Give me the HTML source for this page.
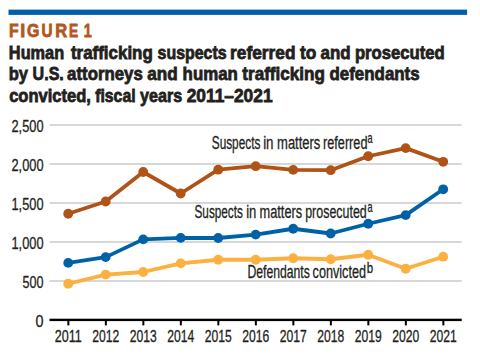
<!DOCTYPE html>
<html><head><meta charset="utf-8"><style>
html,body{margin:0;padding:0;background:#fff;width:480px;height:362px;overflow:hidden;}
svg{display:block;}
svg text{font-family:"Liberation Sans", sans-serif;}
</style></head><body>
<svg width="480" height="362" viewBox="0 0 480 362">
<rect x="8.5" y="9.6" width="458.6" height="5.3" fill="#0060a9"/>
<text x="9.06" y="36.8" font-size="18.6" font-weight="bold" fill="#b4571d" stroke="#b4571d" stroke-width="0.8" textLength="9.64" lengthAdjust="spacingAndGlyphs">F</text>
<text x="20.18" y="36.8" font-size="18.6" font-weight="bold" fill="#b4571d" stroke="#b4571d" stroke-width="0.8" textLength="4.95" lengthAdjust="spacingAndGlyphs">I</text>
<text x="26.99" y="36.8" font-size="18.6" font-weight="bold" fill="#b4571d" stroke="#b4571d" stroke-width="0.8" textLength="12.43" lengthAdjust="spacingAndGlyphs">G</text>
<text x="41.58" y="36.8" font-size="18.6" font-weight="bold" fill="#b4571d" stroke="#b4571d" stroke-width="0.8" textLength="11.09" lengthAdjust="spacingAndGlyphs">U</text>
<text x="55.14" y="36.8" font-size="18.6" font-weight="bold" fill="#b4571d" stroke="#b4571d" stroke-width="0.8" textLength="11.91" lengthAdjust="spacingAndGlyphs">R</text>
<text x="69.05" y="36.8" font-size="18.6" font-weight="bold" fill="#b4571d" stroke="#b4571d" stroke-width="0.8" textLength="9.15" lengthAdjust="spacingAndGlyphs">E</text>
<text x="83.82" y="36.8" font-size="18.6" font-weight="bold" fill="#b4571d" stroke="#b4571d" stroke-width="0.8" textLength="7.95" lengthAdjust="spacingAndGlyphs">1</text>
<text x="8.86" y="59.1" font-size="19.0" font-weight="bold" fill="#231f20" stroke="#231f20" stroke-width="0.8" textLength="55.31" lengthAdjust="spacingAndGlyphs">Human</text>
<text x="70.97" y="59.1" font-size="19.0" font-weight="bold" fill="#231f20" stroke="#231f20" stroke-width="0.8" textLength="81.79" lengthAdjust="spacingAndGlyphs">trafficking</text>
<text x="157.59" y="59.1" font-size="19.0" font-weight="bold" fill="#231f20" stroke="#231f20" stroke-width="0.8" textLength="68.97" lengthAdjust="spacingAndGlyphs">suspects</text>
<text x="230.12" y="59.1" font-size="19.0" font-weight="bold" fill="#231f20" stroke="#231f20" stroke-width="0.8" textLength="65.34" lengthAdjust="spacingAndGlyphs">referred</text>
<text x="299.93" y="59.1" font-size="19.0" font-weight="bold" fill="#231f20" stroke="#231f20" stroke-width="0.8" textLength="16.37" lengthAdjust="spacingAndGlyphs">to</text>
<text x="320.58" y="59.1" font-size="19.0" font-weight="bold" fill="#231f20" stroke="#231f20" stroke-width="0.8" textLength="30.12" lengthAdjust="spacingAndGlyphs">and</text>
<text x="354.94" y="59.1" font-size="19.0" font-weight="bold" fill="#231f20" stroke="#231f20" stroke-width="0.8" textLength="89.77" lengthAdjust="spacingAndGlyphs">prosecuted</text>
<text x="8.65" y="80.4" font-size="19.0" font-weight="bold" fill="#231f20" stroke="#231f20" stroke-width="0.8" textLength="19.28" lengthAdjust="spacingAndGlyphs">by</text>
<text x="32.57" y="80.4" font-size="19.0" font-weight="bold" fill="#231f20" stroke="#231f20" stroke-width="0.8" textLength="31.24" lengthAdjust="spacingAndGlyphs">U.S.</text>
<text x="67.08" y="80.4" font-size="19.0" font-weight="bold" fill="#231f20" stroke="#231f20" stroke-width="0.8" textLength="75.69" lengthAdjust="spacingAndGlyphs">attorneys</text>
<text x="147.27" y="80.4" font-size="19.0" font-weight="bold" fill="#231f20" stroke="#231f20" stroke-width="0.8" textLength="30.43" lengthAdjust="spacingAndGlyphs">and</text>
<text x="182.61" y="80.4" font-size="19.0" font-weight="bold" fill="#231f20" stroke="#231f20" stroke-width="0.8" textLength="55.18" lengthAdjust="spacingAndGlyphs">human</text>
<text x="242.32" y="80.4" font-size="19.0" font-weight="bold" fill="#231f20" stroke="#231f20" stroke-width="0.8" textLength="82.65" lengthAdjust="spacingAndGlyphs">trafficking</text>
<text x="329.56" y="80.4" font-size="19.0" font-weight="bold" fill="#231f20" stroke="#231f20" stroke-width="0.8" textLength="90.06" lengthAdjust="spacingAndGlyphs">defendants</text>
<text x="9.18" y="101.6" font-size="19.0" font-weight="bold" fill="#231f20" stroke="#231f20" stroke-width="0.8" textLength="81.77" lengthAdjust="spacingAndGlyphs">convicted,</text>
<text x="95.20" y="101.6" font-size="19.0" font-weight="bold" fill="#231f20" stroke="#231f20" stroke-width="0.8" textLength="40.40" lengthAdjust="spacingAndGlyphs">fiscal</text>
<text x="140.11" y="101.6" font-size="19.0" font-weight="bold" fill="#231f20" stroke="#231f20" stroke-width="0.8" textLength="42.15" lengthAdjust="spacingAndGlyphs">years</text>
<text x="186.67" y="101.6" font-size="19.0" font-weight="bold" fill="#231f20" stroke="#231f20" stroke-width="0.8" textLength="85.89" lengthAdjust="spacingAndGlyphs">2011–2021</text>
<text x="211.76" y="148.5" font-size="18" fill="#231f20" stroke="#231f20" stroke-width="0.3" textLength="48.60" lengthAdjust="spacingAndGlyphs">Suspects</text>
<text x="263.16" y="148.5" font-size="18" fill="#231f20" stroke="#231f20" stroke-width="0.3" textLength="10.39" lengthAdjust="spacingAndGlyphs">in</text>
<text x="277.08" y="148.5" font-size="18" fill="#231f20" stroke="#231f20" stroke-width="0.3" textLength="43.29" lengthAdjust="spacingAndGlyphs">matters</text>
<text x="323.05" y="148.5" font-size="18" fill="#231f20" stroke="#231f20" stroke-width="0.3" textLength="44.38" lengthAdjust="spacingAndGlyphs">referred</text>
<text x="194.51" y="218" font-size="18" fill="#231f20" stroke="#231f20" stroke-width="0.3" textLength="48.35" lengthAdjust="spacingAndGlyphs">Suspects</text>
<text x="246.18" y="218" font-size="18" fill="#231f20" stroke="#231f20" stroke-width="0.3" textLength="10.16" lengthAdjust="spacingAndGlyphs">in</text>
<text x="259.59" y="218" font-size="18" fill="#231f20" stroke="#231f20" stroke-width="0.3" textLength="42.58" lengthAdjust="spacingAndGlyphs">matters</text>
<text x="305.21" y="218" font-size="18" fill="#231f20" stroke="#231f20" stroke-width="0.3" textLength="61.52" lengthAdjust="spacingAndGlyphs">prosecuted</text>
<text x="247.40" y="278.4" font-size="18" fill="#231f20" stroke="#231f20" stroke-width="0.3" textLength="62.49" lengthAdjust="spacingAndGlyphs">Defendants</text>
<text x="312.57" y="278.4" font-size="18" fill="#231f20" stroke="#231f20" stroke-width="0.3" textLength="53.41" lengthAdjust="spacingAndGlyphs">convicted</text>
<text x="367.48" y="142.6" font-size="14.2" fill="#231f20" stroke="#231f20" stroke-width="0.3" textLength="5.05" lengthAdjust="spacingAndGlyphs">a</text>
<text x="367.48" y="212.0" font-size="14.2" fill="#231f20" stroke="#231f20" stroke-width="0.3" textLength="5.05" lengthAdjust="spacingAndGlyphs">a</text>
<text x="366.69" y="273.2" font-size="14.2" fill="#231f20" stroke="#231f20" stroke-width="0.3" textLength="6.43" lengthAdjust="spacingAndGlyphs">b</text>
<rect x="49.5" y="124" width="412.2" height="2" fill="#d7d7d7"/>
<rect x="49.5" y="163" width="412.2" height="2" fill="#d7d7d7"/>
<rect x="49.5" y="202" width="412.2" height="2" fill="#d7d7d7"/>
<rect x="49.5" y="241" width="412.2" height="2" fill="#d7d7d7"/>
<rect x="49.5" y="280" width="412.2" height="2" fill="#d7d7d7"/>
<rect x="49.5" y="318.7" width="412.2" height="2.4" fill="#000"/>
<rect x="67.35" y="320" width="2" height="5.4" fill="#000"/>
<rect x="104.85" y="320" width="2" height="5.4" fill="#000"/>
<rect x="142.35" y="320" width="2" height="5.4" fill="#000"/>
<rect x="179.85" y="320" width="2" height="5.4" fill="#000"/>
<rect x="217.35" y="320" width="2" height="5.4" fill="#000"/>
<rect x="254.85" y="320" width="2" height="5.4" fill="#000"/>
<rect x="292.35" y="320" width="2" height="5.4" fill="#000"/>
<rect x="329.85" y="320" width="2" height="5.4" fill="#000"/>
<rect x="367.35" y="320" width="2" height="5.4" fill="#000"/>
<rect x="404.85" y="320" width="2" height="5.4" fill="#000"/>
<rect x="442.35" y="320" width="2" height="5.4" fill="#000"/>
<text x="11.5" y="131.9" font-size="17" fill="#231f20" stroke="#231f20" stroke-width="0.3" textLength="32" lengthAdjust="spacingAndGlyphs">2,500</text>
<text x="11.5" y="170.8" font-size="17" fill="#231f20" stroke="#231f20" stroke-width="0.3" textLength="32" lengthAdjust="spacingAndGlyphs">2,000</text>
<text x="11.5" y="209.9" font-size="17" fill="#231f20" stroke="#231f20" stroke-width="0.3" textLength="32" lengthAdjust="spacingAndGlyphs">1,500</text>
<text x="11.5" y="249" font-size="17" fill="#231f20" stroke="#231f20" stroke-width="0.3" textLength="32" lengthAdjust="spacingAndGlyphs">1,000</text>
<text x="22.5" y="288" font-size="17" fill="#231f20" stroke="#231f20" stroke-width="0.3" textLength="21" lengthAdjust="spacingAndGlyphs">500</text>
<text x="35.5" y="327" font-size="17" fill="#231f20" stroke="#231f20" stroke-width="0.3" textLength="8" lengthAdjust="spacingAndGlyphs">0</text>
<text x="54.70" y="342" font-size="17" fill="#231f20" stroke="#231f20" stroke-width="0.3" textLength="27" lengthAdjust="spacingAndGlyphs">2011</text>
<text x="92.20" y="342" font-size="17" fill="#231f20" stroke="#231f20" stroke-width="0.3" textLength="27" lengthAdjust="spacingAndGlyphs">2012</text>
<text x="129.70" y="342" font-size="17" fill="#231f20" stroke="#231f20" stroke-width="0.3" textLength="27" lengthAdjust="spacingAndGlyphs">2013</text>
<text x="167.20" y="342" font-size="17" fill="#231f20" stroke="#231f20" stroke-width="0.3" textLength="27" lengthAdjust="spacingAndGlyphs">2014</text>
<text x="204.70" y="342" font-size="17" fill="#231f20" stroke="#231f20" stroke-width="0.3" textLength="27" lengthAdjust="spacingAndGlyphs">2015</text>
<text x="242.20" y="342" font-size="17" fill="#231f20" stroke="#231f20" stroke-width="0.3" textLength="27" lengthAdjust="spacingAndGlyphs">2016</text>
<text x="279.70" y="342" font-size="17" fill="#231f20" stroke="#231f20" stroke-width="0.3" textLength="27" lengthAdjust="spacingAndGlyphs">2017</text>
<text x="317.20" y="342" font-size="17" fill="#231f20" stroke="#231f20" stroke-width="0.3" textLength="27" lengthAdjust="spacingAndGlyphs">2018</text>
<text x="354.70" y="342" font-size="17" fill="#231f20" stroke="#231f20" stroke-width="0.3" textLength="27" lengthAdjust="spacingAndGlyphs">2019</text>
<text x="392.20" y="342" font-size="17" fill="#231f20" stroke="#231f20" stroke-width="0.3" textLength="27" lengthAdjust="spacingAndGlyphs">2020</text>
<text x="429.70" y="342" font-size="17" fill="#231f20" stroke="#231f20" stroke-width="0.3" textLength="27" lengthAdjust="spacingAndGlyphs">2021</text>
<polyline points="68.20,213.75 105.70,201.50 143.20,172.00 180.70,193.50 218.20,169.70 255.70,166.20 293.20,169.90 330.70,170.20 368.20,156.25 405.70,148.10 443.20,161.80" fill="none" stroke="#af5316" stroke-width="3.8" stroke-linejoin="round"/>
<circle cx="68.20" cy="213.75" r="4.9" fill="#af5316"/>
<circle cx="105.70" cy="201.50" r="4.9" fill="#af5316"/>
<circle cx="143.20" cy="172.00" r="4.9" fill="#af5316"/>
<circle cx="180.70" cy="193.50" r="4.9" fill="#af5316"/>
<circle cx="218.20" cy="169.70" r="4.9" fill="#af5316"/>
<circle cx="255.70" cy="166.20" r="4.9" fill="#af5316"/>
<circle cx="293.20" cy="169.90" r="4.9" fill="#af5316"/>
<circle cx="330.70" cy="170.20" r="4.9" fill="#af5316"/>
<circle cx="368.20" cy="156.25" r="4.9" fill="#af5316"/>
<circle cx="405.70" cy="148.10" r="4.9" fill="#af5316"/>
<circle cx="443.20" cy="161.80" r="4.9" fill="#af5316"/>

<polyline points="68.20,262.90 105.70,257.10 143.20,239.40 180.70,237.90 218.20,238.00 255.70,234.60 293.20,228.75 330.70,233.50 368.20,223.75 405.70,215.10 443.20,189.30" fill="none" stroke="#0062a6" stroke-width="3.8" stroke-linejoin="round"/>
<circle cx="68.20" cy="262.90" r="4.9" fill="#0062a6"/>
<circle cx="105.70" cy="257.10" r="4.9" fill="#0062a6"/>
<circle cx="143.20" cy="239.40" r="4.9" fill="#0062a6"/>
<circle cx="180.70" cy="237.90" r="4.9" fill="#0062a6"/>
<circle cx="218.20" cy="238.00" r="4.9" fill="#0062a6"/>
<circle cx="255.70" cy="234.60" r="4.9" fill="#0062a6"/>
<circle cx="293.20" cy="228.75" r="4.9" fill="#0062a6"/>
<circle cx="330.70" cy="233.50" r="4.9" fill="#0062a6"/>
<circle cx="368.20" cy="223.75" r="4.9" fill="#0062a6"/>
<circle cx="405.70" cy="215.10" r="4.9" fill="#0062a6"/>
<circle cx="443.20" cy="189.30" r="4.9" fill="#0062a6"/>

<polyline points="68.20,283.75 105.70,274.60 143.20,272.00 180.70,263.40 218.20,259.75 255.70,259.75 293.20,258.25 330.70,259.25 368.20,254.75 405.70,268.75 443.20,256.70" fill="none" stroke="#fbb040" stroke-width="3.8" stroke-linejoin="round"/>
<circle cx="68.20" cy="283.75" r="4.9" fill="#fbb040"/>
<circle cx="105.70" cy="274.60" r="4.9" fill="#fbb040"/>
<circle cx="143.20" cy="272.00" r="4.9" fill="#fbb040"/>
<circle cx="180.70" cy="263.40" r="4.9" fill="#fbb040"/>
<circle cx="218.20" cy="259.75" r="4.9" fill="#fbb040"/>
<circle cx="255.70" cy="259.75" r="4.9" fill="#fbb040"/>
<circle cx="293.20" cy="258.25" r="4.9" fill="#fbb040"/>
<circle cx="330.70" cy="259.25" r="4.9" fill="#fbb040"/>
<circle cx="368.20" cy="254.75" r="4.9" fill="#fbb040"/>
<circle cx="405.70" cy="268.75" r="4.9" fill="#fbb040"/>
<circle cx="443.20" cy="256.70" r="4.9" fill="#fbb040"/>

</svg>
</body></html>
